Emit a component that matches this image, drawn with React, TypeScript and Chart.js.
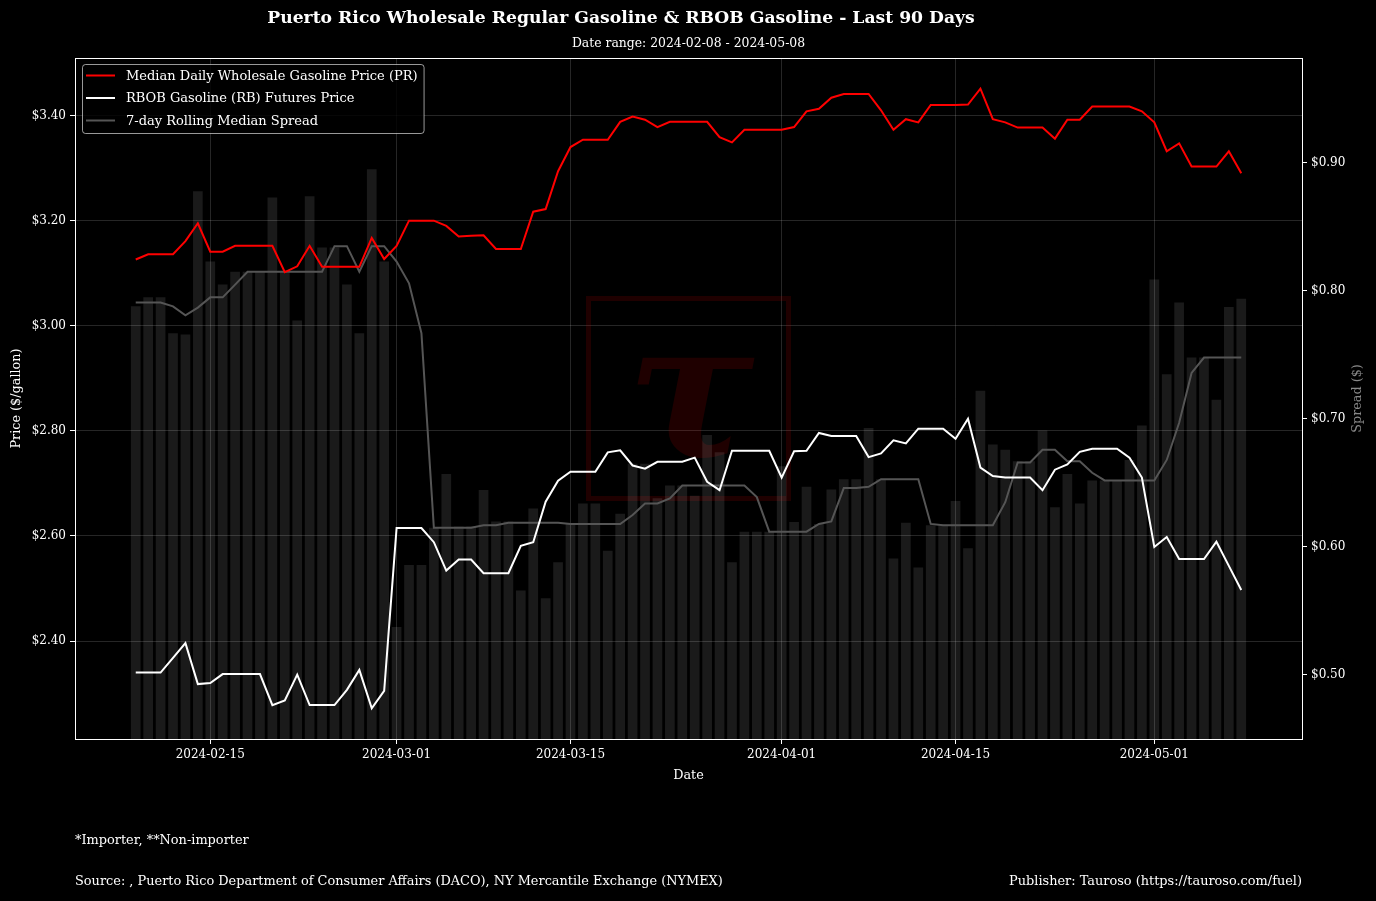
import React, { useEffect, useRef } from "react";
import { Chart, registerables } from "chart.js";

Chart.register(...registerables);

// ---------- DATA ----------
const START_DATE = "2024-02-09";

const medianPR = [
  3.126, 3.136, 3.136, 3.136, 3.161, 3.195, 3.141, 3.141, 3.152, 3.152,
  3.152, 3.152, 3.102, 3.113, 3.152, 3.112, 3.112, 3.112, 3.112, 3.167,
  3.127, 3.152, 3.200, 3.200, 3.200, 3.190, 3.170, 3.171, 3.172, 3.146,
  3.146, 3.146, 3.217, 3.222, 3.294, 3.340, 3.354, 3.354, 3.354, 3.388,
  3.398, 3.392, 3.378, 3.388, 3.388, 3.388, 3.388, 3.359, 3.349, 3.373,
  3.373, 3.373, 3.373, 3.378, 3.408, 3.413, 3.434, 3.441, 3.441, 3.441,
  3.410, 3.373, 3.393, 3.387, 3.420, 3.420, 3.420, 3.421, 3.451, 3.393,
  3.387, 3.377, 3.377, 3.377, 3.356, 3.392, 3.392, 3.417, 3.417, 3.417,
  3.417, 3.408, 3.387, 3.332, 3.347, 3.303, 3.303, 3.303, 3.332, 3.290,
];

const rbob = [
  2.340, 2.340, 2.340, 2.368, 2.396, 2.318, 2.320, 2.337, 2.337, 2.337,
  2.337, 2.278, 2.287, 2.336, 2.278, 2.278, 2.278, 2.307, 2.345, 2.272,
  2.305, 2.615, 2.615, 2.615, 2.588, 2.534, 2.555, 2.555, 2.529, 2.529,
  2.529, 2.581, 2.588, 2.665, 2.705, 2.722, 2.722, 2.722, 2.759, 2.763,
  2.734, 2.728, 2.741, 2.741, 2.741, 2.749, 2.703, 2.687, 2.762, 2.762,
  2.762, 2.762, 2.711, 2.761, 2.762, 2.796, 2.790, 2.790, 2.790, 2.750,
  2.757, 2.782, 2.776, 2.804, 2.804, 2.804, 2.785, 2.823, 2.730, 2.714,
  2.711, 2.711, 2.711, 2.687, 2.726, 2.736, 2.760, 2.766, 2.766, 2.766,
  2.749, 2.711, 2.579, 2.598, 2.556, 2.556, 2.556, 2.589, 2.543, 2.497,
];

const dailySpread = [
  0.788, 0.795, 0.795, 0.767, 0.766, 0.878, 0.823, 0.805, 0.815, 0.815,
  0.815, 0.873, 0.815, 0.777, 0.874, 0.834, 0.834, 0.805, 0.767, 0.895,
  0.823, 0.5375, 0.586, 0.586, 0.615, 0.657, 0.616, 0.616, 0.6445, 0.620,
  0.620, 0.566, 0.630, 0.560, 0.588, 0.618, 0.634, 0.634, 0.597, 0.626,
  0.665, 0.665, 0.638, 0.648, 0.648, 0.640, 0.6875, 0.674, 0.588, 0.612,
  0.612, 0.612, 0.663, 0.6195, 0.647, 0.618, 0.645, 0.653, 0.653, 0.693,
  0.653, 0.591, 0.619, 0.584, 0.617, 0.617, 0.636, 0.599, 0.722, 0.680,
  0.676, 0.667, 0.667, 0.691, 0.631, 0.657, 0.634, 0.652, 0.652, 0.652,
  0.668, 0.695, 0.809, 0.735, 0.791, 0.748, 0.748, 0.715, 0.7875, 0.794,
];

const rollingSpread = [
  0.791, 0.791, 0.791, 0.788, 0.781, 0.787, 0.795, 0.795, 0.805, 0.815,
  0.815, 0.815, 0.815, 0.815, 0.815, 0.815, 0.835, 0.835, 0.815, 0.835,
  0.835, 0.823, 0.806, 0.767, 0.615, 0.615, 0.615, 0.615, 0.617, 0.617,
  0.619, 0.619, 0.619, 0.619, 0.619, 0.618, 0.618, 0.618, 0.618, 0.618,
  0.625, 0.634, 0.634, 0.638, 0.648, 0.648, 0.648, 0.648, 0.648, 0.648,
  0.639, 0.612, 0.612, 0.612, 0.612, 0.618, 0.620, 0.646, 0.646, 0.647,
  0.653, 0.653, 0.653, 0.653, 0.618, 0.617, 0.617, 0.617, 0.617, 0.617,
  0.635, 0.666, 0.666, 0.676, 0.676, 0.667, 0.667, 0.658, 0.652, 0.652,
  0.652, 0.652, 0.652, 0.668, 0.697, 0.736, 0.748, 0.748, 0.748, 0.748,
];

const xTickDates = ["2024-02-15", "2024-03-01", "2024-03-15", "2024-04-01", "2024-04-15", "2024-05-01"];
const priceTicks = [2.4, 2.6, 2.8, 3.0, 3.2, 3.4];
const spreadTicks = [0.5, 0.6, 0.7, 0.8, 0.9];

const TITLE = "Puerto Rico Wholesale Regular Gasoline & RBOB Gasoline - Last 90 Days";
const SUBTITLE = "Date range: 2024-02-08 - 2024-05-08";
const NOTE = "*Importer, **Non-importer";
const SOURCE = "Source: , Puerto Rico Department of Consumer Affairs (DACO), NY Mercantile Exchange (NYMEX)";
const PUBLISHER = "Publisher: Tauroso (https://tauroso.com/fuel)";
const Y_TITLE = "Price ($/gallon)";
const Y1_TITLE = "Spread ($)";
const X_TITLE = "Date";

const LABEL_PR = "Median Daily Wholesale Gasoline Price (PR)";
const LABEL_RB = "RBOB Gasoline (RB) Futures Price";
const LABEL_ROLL = "7-day Rolling Median Spread";

// ---------- helpers ----------
const FONT = '"DejaVu Serif", serif';
const dayOffset = (d: string) => Math.round((Date.parse(d) - Date.parse(START_DATE)) / 86400000);
const toXY = (arr: number[]) => arr.map((v, i) => ({ x: i, y: v }));
const xTickPos = xTickDates.map(dayOffset);

export default function App() {
  const ref = useRef<HTMLCanvasElement | null>(null);

  useEffect(() => {
    const canvas = ref.current;
    if (!canvas) return;

    const bgPlugin = {
      id: "bg",
      beforeDraw(chart: any) {
        const { ctx, width, height } = chart;
        ctx.save();
        ctx.fillStyle = "#000";
        ctx.fillRect(0, 0, width, height);
        ctx.restore();
      },
    };

    const watermark = {
      id: "watermark",
      beforeDatasetsDraw(chart: any) {
        const { ctx, chartArea: ca } = chart;
        const cx = (ca.left + ca.right) / 2;
        const cy = (ca.top + ca.bottom) / 2;
        ctx.save();
        ctx.strokeStyle = "rgba(255,0,0,0.12)";
        ctx.fillStyle = "rgba(255,0,0,0.12)";
        ctx.lineWidth = 5;
        ctx.strokeRect(cx - 100, cy - 100, 200, 200);
        ctx.font = `italic bold 190px ${FONT}`;
        ctx.textAlign = "center";
        ctx.textBaseline = "alphabetic";
        ctx.fillText("τ", cx + 2, cy + 57);
        ctx.restore();
      },
    };

    const overlay = {
      id: "overlay",
      afterDraw(chart: any) {
        const { ctx, chartArea: ca } = chart;
        ctx.save();
        // frame
        ctx.strokeStyle = "#fff";
        ctx.lineWidth = 1;
        ctx.strokeRect(Math.round(ca.left) + 0.5, Math.round(ca.top) + 0.5, Math.round(ca.right - ca.left), Math.round(ca.bottom - ca.top));

        // legend
        const lx = ca.left + 7;
        const ly = ca.top + 6;
        const items = chart.data.datasets.filter((d: any) => d.type === "line");
        ctx.font = `13px ${FONT}`;
        let maxW = 0;
        items.forEach((d: any) => (maxW = Math.max(maxW, ctx.measureText(d.label).width)));
        const bw = 44 + maxW + 6;
        const bh = 69;
        ctx.beginPath();
        ctx.roundRect(lx + 0.5, ly + 0.5, bw, bh, 3);
        ctx.fillStyle = "rgba(0,0,0,0.8)";
        ctx.fill();
        ctx.strokeStyle = "rgba(255,255,255,0.6)";
        ctx.lineWidth = 1;
        ctx.stroke();
        items.forEach((d: any, i: number) => {
          const y = ly + 11.5 + i * 22.5;
          ctx.strokeStyle = d.borderColor;
          ctx.lineWidth = d.borderWidth;
          ctx.beginPath();
          ctx.moveTo(lx + 4, y);
          ctx.lineTo(lx + 33, y);
          ctx.stroke();
          ctx.fillStyle = "#fff";
          ctx.textAlign = "left";
          ctx.textBaseline = "middle";
          ctx.fillText(d.label, lx + 44, y + 1);
        });

        // titles
        ctx.fillStyle = "#fff";
        ctx.textBaseline = "middle";
        ctx.textAlign = "center";
        ctx.font = `bold 17.2px ${FONT}`;
        ctx.fillText(TITLE, 621, 19);
        ctx.font = `12.4px ${FONT}`;
        ctx.fillText(SUBTITLE, (ca.left + ca.right) / 2, 44);

        // right axis title (reads bottom to top)
        ctx.save();
        ctx.translate(1358, (ca.top + ca.bottom) / 2);
        ctx.rotate(-Math.PI / 2);
        ctx.fillStyle = "#888";
        ctx.font = `12.8px ${FONT}`;
        ctx.textAlign = "center";
        ctx.textBaseline = "middle";
        ctx.fillText(Y1_TITLE, 0, 0);
        ctx.restore();

        // footer
        ctx.fillStyle = "#fff";
        ctx.font = `12.9px ${FONT}`;
        ctx.textAlign = "left";
        ctx.textBaseline = "middle";
        ctx.fillText(NOTE, ca.left, 841);
        ctx.fillText(SOURCE, ca.left, 882);
        ctx.textAlign = "right";
        ctx.fillText(PUBLISHER, ca.right, 882);
        ctx.restore();
      },
    };

    const tickFont = { family: FONT, size: 12 };
    const titleFont = { family: FONT, size: 12.8 };
    const gridColor = "rgba(255,255,255,0.15)";

    const chart = new Chart(canvas, {
      type: "line",
      data: {
        datasets: [
          {
            type: "line",
            label: LABEL_PR,
            data: toXY(medianPR),
            yAxisID: "y",
            borderColor: "#ff0000",
            backgroundColor: "#ff0000",
            borderWidth: 2,
            pointRadius: 0,
            tension: 0,
            order: 0,
          },
          {
            type: "line",
            label: LABEL_RB,
            data: toXY(rbob),
            yAxisID: "y",
            borderColor: "#ffffff",
            backgroundColor: "#ffffff",
            borderWidth: 2,
            pointRadius: 0,
            tension: 0,
            order: 1,
          },
          {
            type: "line",
            label: LABEL_ROLL,
            data: toXY(rollingSpread),
            yAxisID: "y1",
            borderColor: "#555555",
            backgroundColor: "#555555",
            borderWidth: 2,
            pointRadius: 0,
            tension: 0,
            order: 2,
          },
          {
            type: "bar",
            label: "Daily Spread",
            data: toXY(dailySpread),
            yAxisID: "y1",
            backgroundColor: "rgba(255,255,255,0.1)",
            borderWidth: 0,
            barPercentage: 1,
            categoryPercentage: 0.78,
            order: 3,
          },
        ] as any,
      },
      plugins: [bgPlugin, watermark, overlay],
      options: {
        responsive: false,
        animation: false,
        devicePixelRatio: 1,
        layout: { padding: { top: 58, bottom: 111, left: 0, right: 0 } },
        plugins: {
          legend: { display: false },
          title: { display: false },
          tooltip: { enabled: false },
        },
        scales: {
          x: {
            type: "linear",
            position: "bottom",
            min: -4.89,
            max: 93.89,
            offset: false,
            afterFit: (s: any) => {
              s.height = 51;
            },
            afterBuildTicks: (s: any) => {
              s.ticks = xTickPos.map((v) => ({ value: v }));
            },
            ticks: {
              color: "#fff",
              font: tickFont,
              padding: 4,
              maxRotation: 0,
              autoSkip: false,
              callback: (v: any) => {
                const i = xTickPos.indexOf(Number(v));
                return i >= 0 ? xTickDates[i] : "";
              },
            },
            grid: { color: gridColor, tickColor: "#fff", tickLength: 5, offset: false },
            border: { color: "#fff" },
            title: { display: true, text: X_TITLE, color: "#fff", font: titleFont, padding: { top: 0, bottom: 7 } },
          },
          y: {
            type: "linear",
            position: "left",
            min: 2.2135,
            max: 3.5095,
            afterFit: (s: any) => {
              s.width = 75;
            },
            afterBuildTicks: (s: any) => {
              s.ticks = priceTicks.map((v) => ({ value: v }));
            },
            ticks: {
              color: "#fff",
              font: tickFont,
              padding: 4,
              callback: (v: any) => "$" + Number(v).toFixed(2),
            },
            grid: { color: gridColor, tickColor: "#fff", tickLength: 5 },
            border: { color: "#fff" },
            title: { display: true, text: Y_TITLE, color: "#fff", font: titleFont, padding: { top: 9, bottom: 0 } },
          },
          y1: {
            type: "linear",
            position: "right",
            min: 0.45,
            max: 0.982,
            afterFit: (s: any) => {
              s.width = 74;
            },
            afterBuildTicks: (s: any) => {
              s.ticks = spreadTicks.map((v) => ({ value: v }));
            },
            ticks: {
              color: "#fff",
              font: tickFont,
              padding: 4,
              callback: (v: any) => "$" + Number(v).toFixed(2),
            },
            grid: { drawOnChartArea: false, color: gridColor, tickColor: "#fff", tickLength: 5 },
            border: { color: "#fff" },
            title: { display: false },
          },
        },
      } as any,
    });

    return () => chart.destroy();
  }, []);

  return (
    <div style={{ position: "fixed", left: 0, top: 0, width: 1376, height: 901, background: "#000" }}>
      <canvas ref={ref} width={1376} height={901} style={{ display: "block" }} />
    </div>
  );
}
